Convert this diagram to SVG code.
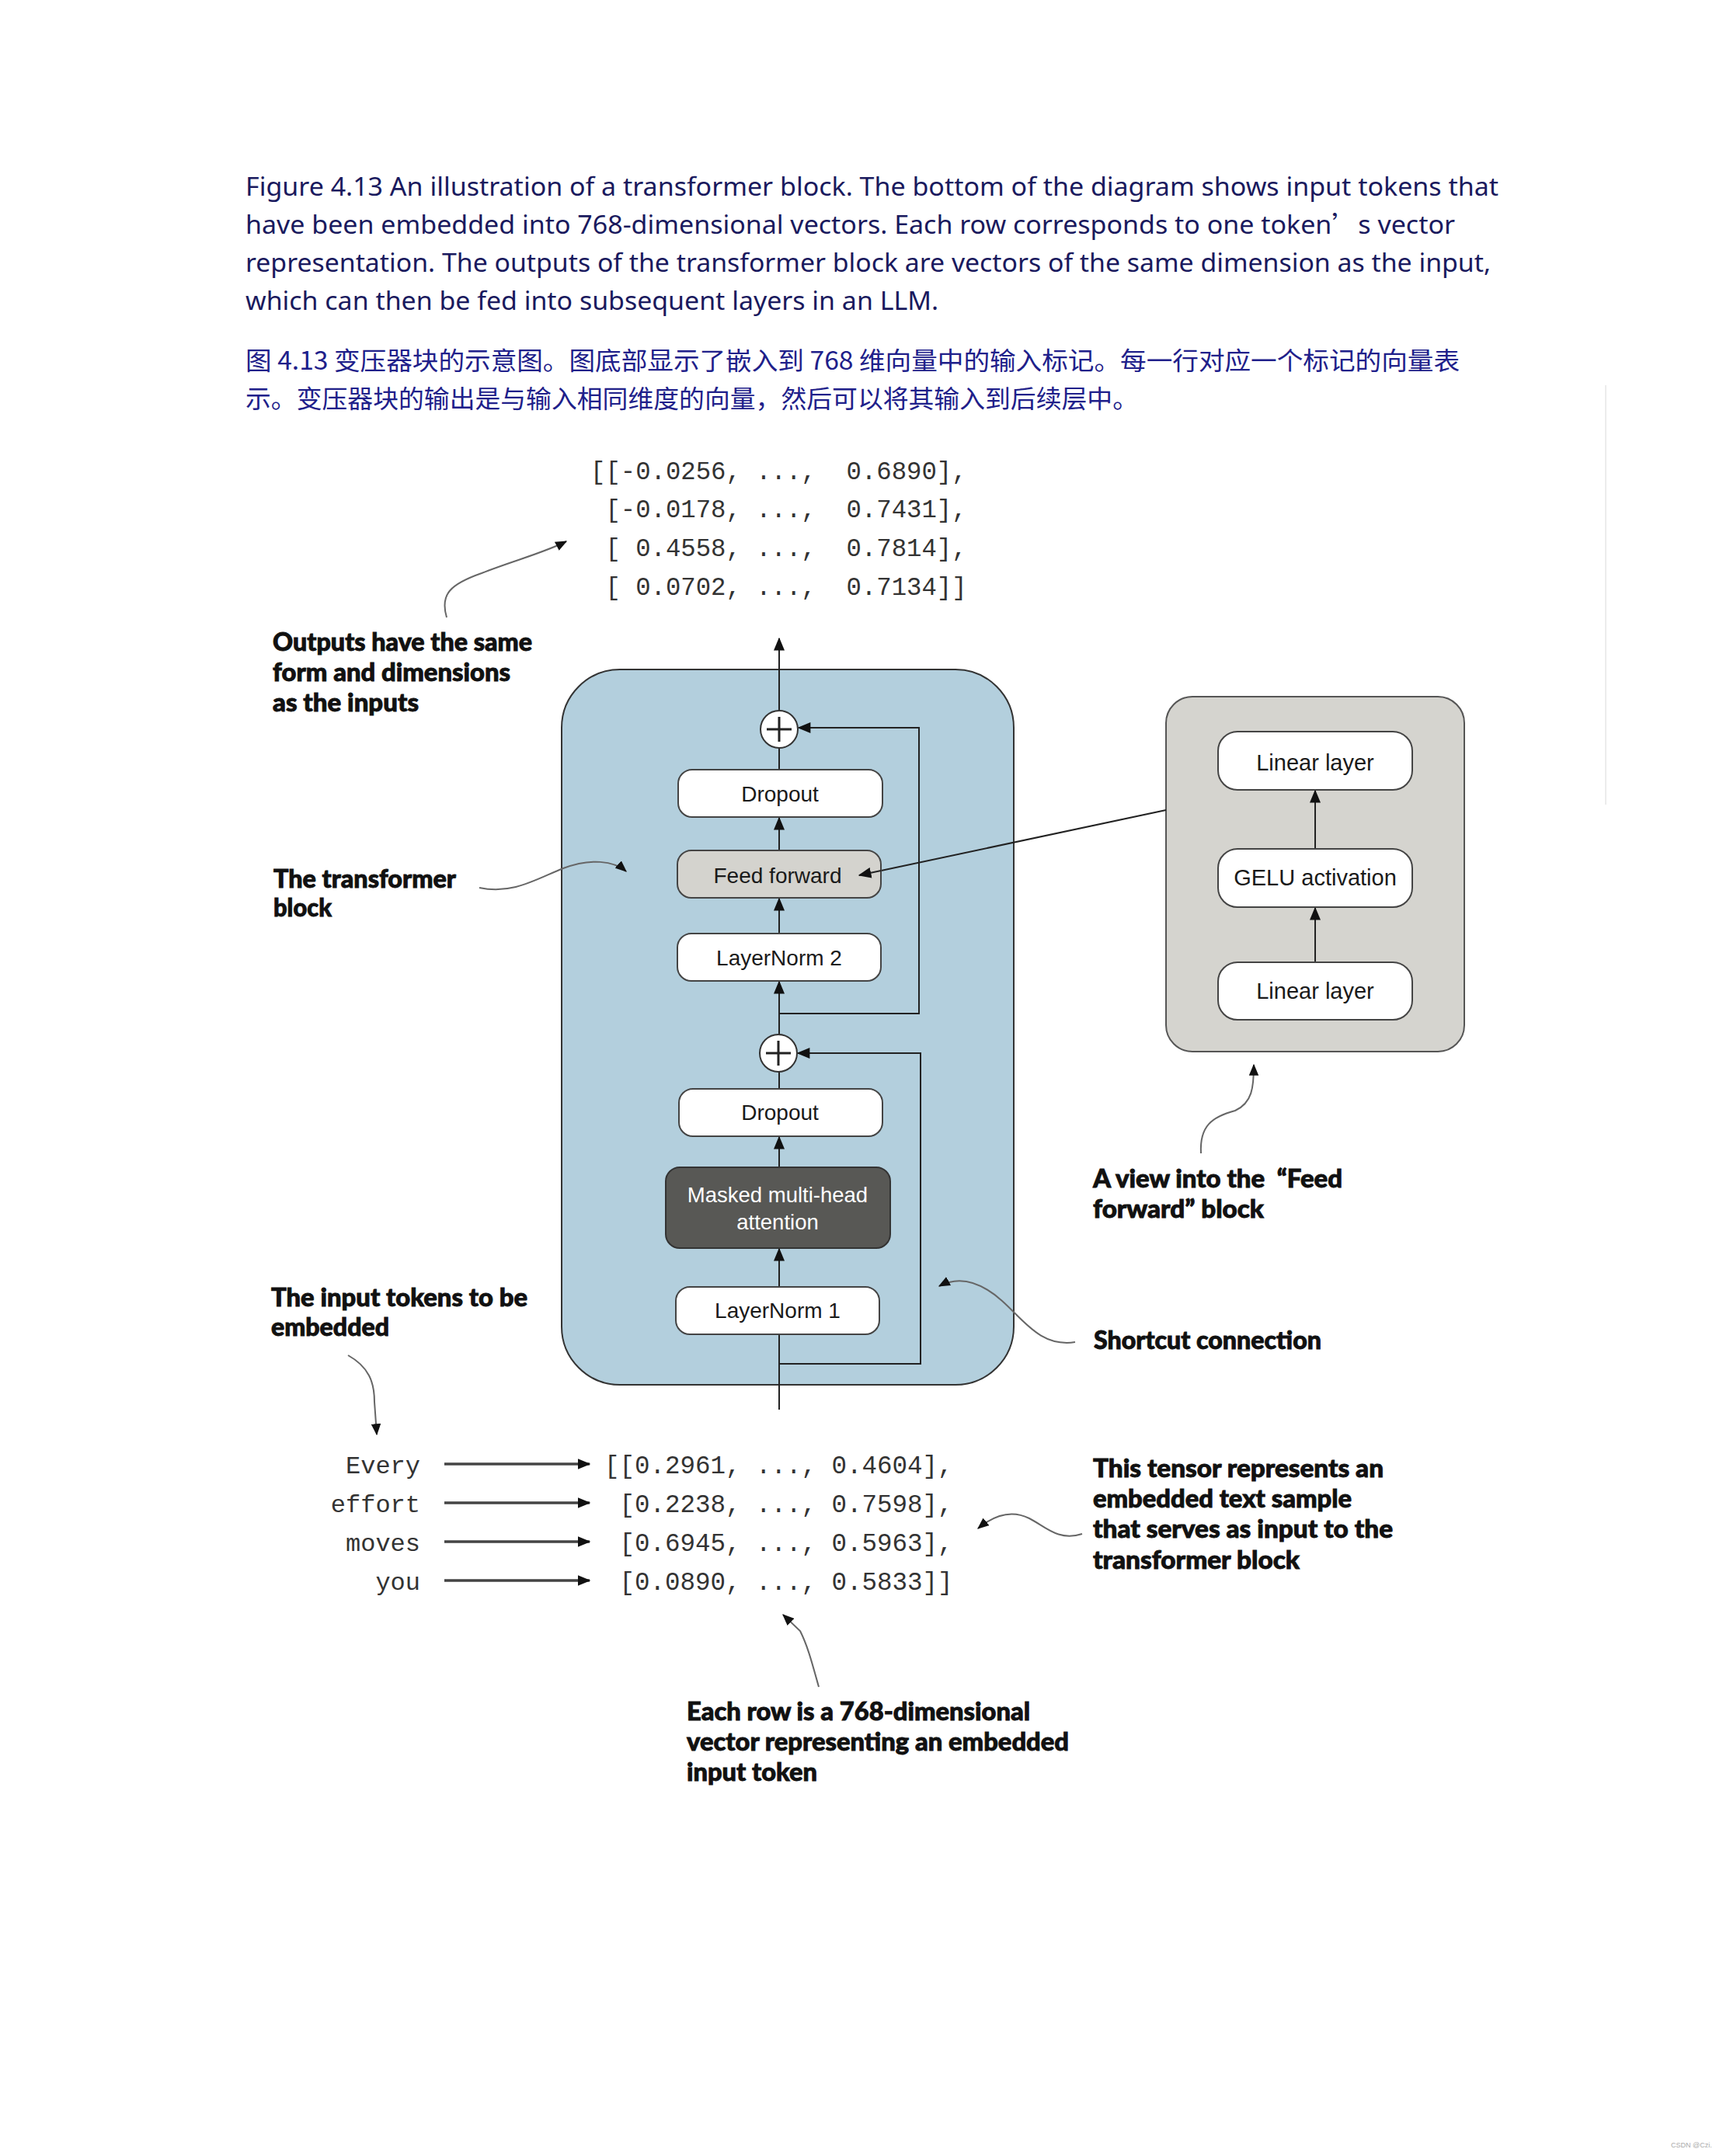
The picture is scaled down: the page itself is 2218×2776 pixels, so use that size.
<svg xmlns="http://www.w3.org/2000/svg" width="2218" height="2776" viewBox="0 0 2218 2776">
<style>
.cap{font-family:"Noto Sans","Open Sans","Liberation Sans",sans-serif;font-size:32px;fill:#1a1a5e}
.zh{font-family:"Noto Sans CJK SC","Noto Sans",sans-serif;font-size:32px;fill:#20208a}
.lbl{font-family:Lato,"Open Sans","Liberation Sans",sans-serif;font-weight:900;font-size:32px;fill:#111;stroke:#111;stroke-width:0.9px}
.mono{font-family:"Liberation Mono","DejaVu Sans Mono",monospace;font-size:32.3px;fill:#333}
.box{fill:#fff;stroke:#444;stroke-width:2}
.bt{font-family:"Liberation Sans",Arial,sans-serif;font-size:28px;fill:#1a1a1a;text-anchor:middle}
.ln{fill:none;stroke:#222;stroke-width:2}
.ann{fill:none;stroke:#666;stroke-width:2}
.tok{fill:none;stroke:#444;stroke-width:3.5}
</style>
<defs>
<marker id="ah" viewBox="0 0 12 10" refX="11" refY="5" markerWidth="17" markerHeight="14" markerUnits="userSpaceOnUse" orient="auto">
<path d="M0,0 L12,5 L0,10 Z" fill="#111"/>
</marker>
<marker id="sa" viewBox="0 0 12 10" refX="11" refY="5" markerWidth="15" markerHeight="13" markerUnits="userSpaceOnUse" orient="auto">
<path d="M0,0 L12,5 L0,10 Z" fill="#111"/>
</marker>
</defs>
<rect width="2218" height="2776" fill="#fff"/>

<g id="caption">
<text class="cap" x="316" y="252" textLength="1613" lengthAdjust="spacingAndGlyphs">Figure 4.13 An illustration of a transformer block. The bottom of the diagram shows input tokens that</text>
<text class="cap" x="316" y="301" textLength="1557" lengthAdjust="spacingAndGlyphs">have been embedded into 768-dimensional vectors. Each row corresponds to one token<tspan font-family="Noto Sans CJK SC">’</tspan>s vector</text>
<text class="cap" x="316" y="350" textLength="1603" lengthAdjust="spacingAndGlyphs">representation. The outputs of the transformer block are vectors of the same dimension as the input,</text>
<text class="cap" x="316" y="399" textLength="892" lengthAdjust="spacingAndGlyphs">which can then be fed into subsequent layers in an LLM.</text>
<text class="zh" x="316" y="476" textLength="1563" lengthAdjust="spacingAndGlyphs">图 4.13 变压器块的示意图。图底部显示了嵌入到 768 维向量中的输入标记。每一行对应一个标记的向量表</text>
<text class="zh" x="316" y="525" textLength="1149" lengthAdjust="spacingAndGlyphs">示。变压器块的输出是与输入相同维度的向量，然后可以将其输入到后续层中。</text>
</g>

<line x1="2067" y1="496" x2="2067" y2="1036" stroke="#ececec" stroke-width="2"/>

<g id="output-matrix">
<text class="mono" xml:space="preserve" x="760" y="617">[[-0.0256, ...,  0.6890],</text>
<text class="mono" xml:space="preserve" x="760" y="666"> [-0.0178, ...,  0.7431],</text>
<text class="mono" xml:space="preserve" x="760" y="716"> [ 0.4558, ...,  0.7814],</text>
<text class="mono" xml:space="preserve" x="760" y="766"> [ 0.0702, ...,  0.7134]]</text>
</g>

<g id="transformer-block">
<rect x="723" y="862" width="582" height="921" rx="75" fill="#b3cfdd" stroke="#333" stroke-width="2"/>
</g>
<g id="ff-detail">
<rect x="1501" y="897" width="384" height="457" rx="34" fill="#d5d4cf" stroke="#555" stroke-width="2"/>
</g>

<g id="connectors">
<line class="ln" x1="1003" y1="915" x2="1003" y2="822" marker-end="url(#ah)"/>
<line class="ln" x1="1003" y1="991" x2="1003" y2="963"/>
<line class="ln" x1="1003" y1="1095" x2="1003" y2="1053" marker-end="url(#ah)"/>
<line class="ln" x1="1003" y1="1202" x2="1003" y2="1157" marker-end="url(#ah)"/>
<line class="ln" x1="1003" y1="1332" x2="1003" y2="1264" marker-end="url(#ah)"/>
<line class="ln" x1="1003" y1="1402" x2="1003" y2="1380"/>
<line class="ln" x1="1003" y1="1503" x2="1003" y2="1464" marker-end="url(#ah)"/>
<line class="ln" x1="1003" y1="1657" x2="1003" y2="1608" marker-end="url(#ah)"/>
<line class="ln" x1="1003" y1="1815" x2="1003" y2="1718"/>
<path class="ln" d="M1003,1305 L1183,1305 L1183,937 L1028,937" marker-end="url(#ah)"/>
<path class="ln" d="M1003,1756 L1185,1756 L1185,1356 L1027,1356" marker-end="url(#ah)"/>
<line class="ln" x1="1501" y1="1043" x2="1106" y2="1127" marker-end="url(#ah)"/>
<line class="ln" x1="1693" y1="1093" x2="1693" y2="1018" marker-end="url(#ah)"/>
<line class="ln" x1="1693" y1="1239" x2="1693" y2="1169" marker-end="url(#ah)"/>
<line class="tok" x1="572" y1="1885" x2="759" y2="1885" marker-end="url(#ah)"/>
<line class="tok" x1="572" y1="1935" x2="759" y2="1935" marker-end="url(#ah)"/>
<line class="tok" x1="572" y1="1985" x2="759" y2="1985" marker-end="url(#ah)"/>
<line class="tok" x1="572" y1="2035" x2="759" y2="2035" marker-end="url(#ah)"/>
<path class="ann" d="M575,795 C566,765 580,752 620,738 C660,722 700,712 729,697" marker-end="url(#sa)"/>
<path class="ann" d="M617,1143 C660,1152 690,1132 725,1118 C760,1105 790,1108 806,1122" marker-end="url(#sa)"/>
<path class="ann" d="M1546,1485 C1544,1450 1560,1438 1590,1430 C1612,1420 1614,1400 1614,1371" marker-end="url(#sa)"/>
<path class="ann" d="M1384,1728 C1340,1735 1318,1700 1290,1675 C1262,1650 1235,1642 1209,1656" marker-end="url(#sa)"/>
<path class="ann" d="M448,1745 C475,1760 482,1780 482,1805 L485,1847" marker-end="url(#sa)"/>
<path class="ann" d="M1393,1975 C1362,1985 1345,1965 1325,1955 C1305,1945 1283,1948 1259,1968" marker-end="url(#sa)"/>
<path class="ann" d="M1054,2172 C1045,2140 1040,2120 1030,2100 L1008,2079" marker-end="url(#sa)"/>
</g>

<g id="plus-top">
<circle cx="1003" cy="939" r="24" fill="#fff" stroke="#333" stroke-width="2"/>
<path d="M987,939 H1019 M1003,923 V955" stroke="#222" stroke-width="3"/>
</g>
<g id="dropout-top">
<rect class="box" x="873" y="991" width="263" height="61" rx="18"/>
<text class="bt" x="1004" y="1032">Dropout</text>
</g>
<g id="feed-forward">
<rect x="872" y="1095" width="262" height="61" rx="18" fill="#d4d3ce" stroke="#444" stroke-width="2"/>
<text class="bt" x="1001" y="1137">Feed forward</text>
</g>
<line class="ln" x1="1134" y1="1121" x2="1106" y2="1127" marker-end="url(#ah)"/>
<g id="layernorm-2">
<rect class="box" x="872" y="1202" width="262" height="61" rx="18"/>
<text class="bt" x="1003" y="1243">LayerNorm 2</text>
</g>
<g id="plus-bottom">
<circle cx="1002" cy="1356" r="24" fill="#fff" stroke="#333" stroke-width="2"/>
<path d="M986,1356 H1018 M1002,1340 V1372" stroke="#222" stroke-width="3"/>
</g>
<g id="dropout-bottom">
<rect class="box" x="874" y="1402" width="262" height="61" rx="18"/>
<text class="bt" x="1004" y="1442">Dropout</text>
</g>
<g id="masked-mha">
<rect x="857" y="1503" width="289" height="104" rx="18" fill="#585855" stroke="#333" stroke-width="2"/>
<text class="bt" x="1001" y="1548" style="fill:#fff;font-size:27.5px">Masked multi-head</text>
<text class="bt" x="1001" y="1583" style="fill:#fff;font-size:27.5px">attention</text>
</g>
<g id="layernorm-1">
<rect class="box" x="870" y="1657" width="262" height="61" rx="18"/>
<text class="bt" x="1001" y="1697">LayerNorm 1</text>
</g>

<g id="linear-top">
<rect class="box" x="1568" y="942" width="250" height="75" rx="25"/>
<text class="bt" x="1693" y="992" style="font-size:29px">Linear layer</text>
</g>
<g id="gelu">
<rect class="box" x="1568" y="1093" width="250" height="75" rx="25"/>
<text class="bt" x="1693" y="1140" style="font-size:29px">GELU activation</text>
</g>
<g id="linear-bottom">
<rect class="box" x="1568" y="1239" width="250" height="74" rx="25"/>
<text class="bt" x="1693" y="1286" style="font-size:29px">Linear layer</text>
</g>

<g id="input-tokens">
<text class="mono" x="541" y="1897" text-anchor="end" style="font-size:32px">Every</text>
<text class="mono" x="541" y="1947" text-anchor="end" style="font-size:32px">effort</text>
<text class="mono" x="541" y="1997" text-anchor="end" style="font-size:32px">moves</text>
<text class="mono" x="541" y="2047" text-anchor="end" style="font-size:32px">you</text>
</g>
<g id="input-matrix">
<text class="mono" xml:space="preserve" x="778" y="1897" style="font-size:32.5px">[[0.2961, ..., 0.4604],</text>
<text class="mono" xml:space="preserve" x="778" y="1947" style="font-size:32.5px"> [0.2238, ..., 0.7598],</text>
<text class="mono" xml:space="preserve" x="778" y="1997" style="font-size:32.5px"> [0.6945, ..., 0.5963],</text>
<text class="mono" xml:space="preserve" x="778" y="2047" style="font-size:32.5px"> [0.0890, ..., 0.5833]]</text>
</g>

<g id="labels">
<text class="lbl" x="351" y="838" textLength="334" lengthAdjust="spacingAndGlyphs">Outputs have the same</text>
<text class="lbl" x="351" y="877" textLength="306" lengthAdjust="spacingAndGlyphs">form and dimensions</text>
<text class="lbl" x="351" y="916" textLength="188" lengthAdjust="spacingAndGlyphs">as the inputs</text>
<text class="lbl" x="352" y="1143" textLength="235" lengthAdjust="spacingAndGlyphs">The transformer</text>
<text class="lbl" x="352" y="1180" textLength="75" lengthAdjust="spacingAndGlyphs">block</text>
<text class="lbl" x="349" y="1682" textLength="330" lengthAdjust="spacingAndGlyphs">The input tokens to be</text>
<text class="lbl" x="349" y="1720" textLength="152" lengthAdjust="spacingAndGlyphs">embedded</text>
<text class="lbl" x="1407" y="1529" textLength="321" lengthAdjust="spacingAndGlyphs" xml:space="preserve">A view into the  “Feed</text>
<text class="lbl" x="1407" y="1568" textLength="220" lengthAdjust="spacingAndGlyphs">forward” block</text>
<text class="lbl" x="1408" y="1737" textLength="293" lengthAdjust="spacingAndGlyphs">Shortcut connection</text>
<text class="lbl" x="1407" y="1902" textLength="374" lengthAdjust="spacingAndGlyphs">This tensor represents an</text>
<text class="lbl" x="1407" y="1941" textLength="333" lengthAdjust="spacingAndGlyphs">embedded text sample</text>
<text class="lbl" x="1407" y="1980" textLength="386" lengthAdjust="spacingAndGlyphs">that serves as input to the</text>
<text class="lbl" x="1407" y="2020" textLength="266" lengthAdjust="spacingAndGlyphs">transformer block</text>
<text class="lbl" x="884" y="2215" textLength="442" lengthAdjust="spacingAndGlyphs">Each row is a 768-dimensional</text>
<text class="lbl" x="884" y="2254" textLength="492" lengthAdjust="spacingAndGlyphs">vector representing an embedded</text>
<text class="lbl" x="884" y="2293" textLength="168" lengthAdjust="spacingAndGlyphs">input token</text>
</g>

<text x="2151" y="2765" font-family="'Liberation Sans',sans-serif" font-size="9" fill="#aaa">CSDN @Czi.</text>
</svg>
